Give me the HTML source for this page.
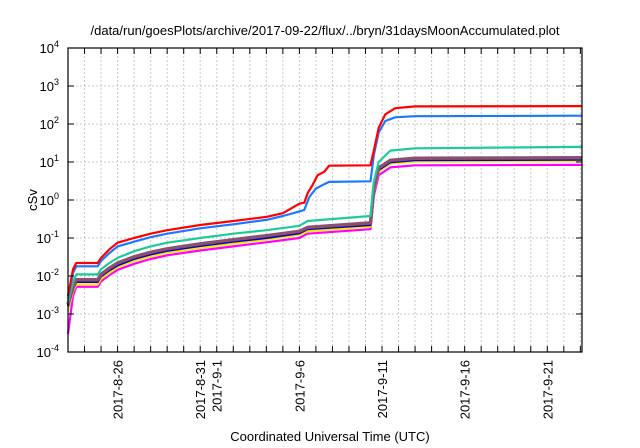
<!DOCTYPE html>
<html><head><meta charset="utf-8">
<style>
html,body{margin:0;padding:0;background:#fff;}
svg{display:block;font-family:"Liberation Sans",sans-serif;}
</style></head>
<body>
<svg id="chart" width="640" height="448" viewBox="0 0 640 448">
<text x="325" y="35" font-size="13" text-anchor="middle">/data/run/goesPlots/archive/2017-09-22/flux/../bryn/31daysMoonAccumulated.plot</text>
<text transform="translate(37,200) rotate(-90)" font-size="13" text-anchor="middle">cSv</text>
<text x="330" y="441" font-size="13" text-anchor="middle">Coordinated Universal Time (UTC)</text>
<g id="grid"></g>
<g id="series"></g>
<g id="axes"></g>
</svg>
<script>
const yTickExps = [-4,-3,-2,-1,0,1,2,3,4];
const xTickLabels = ["2017-8-26","2017-8-31","2017-9-1","2017-9-6","2017-9-11","2017-9-16","2017-9-21"];
const xTickDays = [3,8,9,14,19,24,29];
const dayCount = 31;
const xMaxDay = 31.1;
const seriesNames = ["red","blue","teal","brown","black","darkblue","yellow","magenta"];
const seriesColors = ["#ff0000","#1e78ff","#1ec99a","#8a5070","#202020","#0000e0","#ffe800","#ff00ff"];
const redDays  = [0,0.3,0.5,1.8,2,2.5,3,4,5,6,8,10,12,13,13.5,14,14.3,14.5,14.8,15.1,15.5,15.8,18.3,18.5,18.8,19.2,19.8,21,31.1];
const redVals  = [0.003,0.015,0.022,0.022,0.03,0.05,0.075,0.1,0.13,0.16,0.22,0.28,0.36,0.45,0.6,0.8,0.85,1.5,2.5,4.5,5.5,8,8.2,20,80,180,260,290,295];
const blueDays = [0,0.3,0.5,1.8,2,2.5,3,4,5,6,8,10,12,13,14,14.3,14.6,15,15.5,15.8,18.3,18.5,18.8,19.2,19.8,21,31.1];
const blueVals = [0.0025,0.012,0.018,0.018,0.025,0.04,0.06,0.08,0.105,0.13,0.18,0.23,0.3,0.38,0.5,0.55,1.2,2,2.6,3,3.1,15,60,120,150,160,165];
const grpDays  = [0,0.3,0.5,1.8,2,2.5,3,4,5,6,8,10,12,14,14.5,18.3,18.5,18.8,19.5,21,31.1];
const tealVals = [0.002,0.007,0.011,0.011,0.015,0.022,0.03,0.045,0.06,0.075,0.1,0.13,0.16,0.21,0.28,0.38,3,10,20,23,25];
const brownVals= [0.0018,0.005,0.008,0.008,0.011,0.016,0.022,0.032,0.042,0.052,0.07,0.09,0.115,0.15,0.19,0.25,2,7,11,12.5,13];
const blackVals= [0.0017,0.0048,0.0075,0.0075,0.0105,0.015,0.021,0.03,0.04,0.05,0.067,0.086,0.11,0.143,0.18,0.235,1.9,6.6,10.5,12,12.4];
const dblueVals= [0.0016,0.0045,0.007,0.007,0.0098,0.014,0.019,0.028,0.037,0.046,0.062,0.08,0.1,0.133,0.17,0.22,1.8,6.2,9.8,11.2,11.5];
const yellowVals=[0.0012,0.004,0.006,0.006,0.0085,0.012,0.017,0.025,0.033,0.041,0.055,0.071,0.09,0.12,0.15,0.2,1.6,5.6,9,10.2,10.5];
const magVals  = [0.0003,0.003,0.0052,0.0052,0.0072,0.0105,0.0145,0.021,0.028,0.035,0.047,0.06,0.077,0.1,0.13,0.17,1.3,4.5,7.2,8.2,8.4];

const L=68,R=582,T=48,B=352;
const NS="http://www.w3.org/2000/svg";
function xs(d){return L+(d/xMaxDay)*(R-L);}
function ys(v){const e=Math.log10(v);return B-(e+4)/8*(B-T);}
function mk(tag,attrs,parent){const el=document.createElementNS(NS,tag);for(const k in attrs)el.setAttribute(k,attrs[k]);parent.appendChild(el);return el;}
const grid=document.getElementById('grid'),axes=document.getElementById('axes'),ser=document.getElementById('series');
// grid
for(let d=1;d<=dayCount;d++){
  const el=mk('line',{x1:xs(d),x2:xs(d),y1:T,y2:B,stroke:'#c8c8c8','stroke-width':1,'stroke-dasharray':'2,2'},grid);
  
  
}
yTickExps.forEach(e=>{
  const y=ys(Math.pow(10,e));
  if(e>-4&&e<4){
    const g=mk('line',{x1:L,x2:R,y1:y,y2:y,stroke:'#c8c8c8','stroke-width':1,'stroke-dasharray':'2,2'},grid);
    
    
  }
  const t1=mk('line',{x1:L,x2:L+6,y1:y,y2:y,stroke:'#000'},axes);
  
  
  const t2=mk('line',{x1:R,x2:R-6,y1:y,y2:y,stroke:'#000'},axes);
  
  
  const tx=mk('text',{x:L-9,y:y+5,'font-size':13,'text-anchor':'end'},axes);
  
  
  tx.appendChild(document.createTextNode('10'));
  const sp=mk('tspan',{dy:-6,'font-size':9},tx);sp.textContent=String(e);
});
for(let d=1;d<=dayCount;d++){
  const t=mk('line',{x1:xs(d),x2:xs(d),y1:B,y2:B-6,stroke:'#000'},axes);
  
  
  const t2=mk('line',{x1:xs(d),x2:xs(d),y1:T,y2:T+6,stroke:'#000'},axes);
  
  
}
xTickLabels.forEach((lab,i)=>{
  const x=xs(xTickDays[i]);
  const t=mk('text',{transform:`translate(${x+5},360) rotate(-90)`,'font-size':13,'text-anchor':'end'},axes);
  
  
  t.textContent=lab;
});
const fr=mk('rect',{x:L,y:T,width:R-L,height:B-T,fill:'none',stroke:'#000','stroke-width':1.2},axes);


// series
const allVals=[redVals,blueVals,tealVals,brownVals,blackVals,dblueVals,yellowVals,magVals];
const allDays=[redDays,blueDays,grpDays,grpDays,grpDays,grpDays,grpDays,grpDays];
const order=[7,6,5,4,3,2,1,0];
order.forEach(i=>{
  const pts=allDays[i].map((d,k)=>xs(d).toFixed(1)+','+ys(allVals[i][k]).toFixed(1)).join(' ');
  const p=mk('polyline',{points:pts,fill:'none',stroke:seriesColors[i],'stroke-width':i==3?3.5:2.2,'stroke-linejoin':'round'},ser);
  
  
});
</script>
</body></html>
